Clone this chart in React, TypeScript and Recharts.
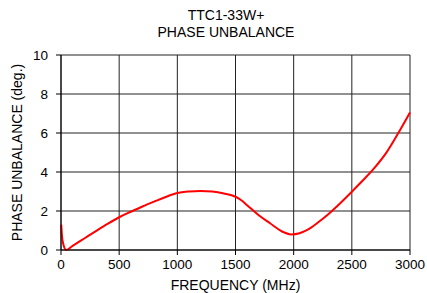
import { CartesianGrid, Line, LineChart, XAxis, YAxis } from "recharts";

const frequency = [
  2, 8, 20, 45, 100, 200, 300, 400, 500, 600, 700, 800, 900, 1000, 1100, 1200, 1300, 1400, 1500, 1550,
  1600, 1700, 1800, 1900, 1980, 2050, 2100, 2150, 2200, 2300, 2400, 2500, 2600, 2700, 2800, 2900, 3000,
];
const phaseUnbalance = [
  1.3, 0.75, 0.3, 0.0, 0.21, 0.59, 0.97, 1.34, 1.68, 1.96, 2.23, 2.48, 2.72, 2.92, 3.0, 3.03, 3.0, 2.9, 2.73, 2.55,
  2.3, 1.78, 1.36, 0.95, 0.8, 0.86, 0.98, 1.15, 1.37, 1.85, 2.4, 2.99, 3.6, 4.25, 5.02, 6.0, 7.05,
];
const xTicks = [0, 500, 1000, 1500, 2000, 2500, 3000];
const yTicks = [0, 2, 4, 6, 8, 10];

const data = frequency.map((f, i) => ({ f, v: phaseUnbalance[i] }));

const font = "'Liberation Sans', Arial, sans-serif";

export default function App() {
  return (
    <div style={{ position: "absolute", left: 0, top: 0, width: 427, height: 293, background: "#fff", fontFamily: font }}>
      <div style={{ position: "absolute", left: 0, width: 452, top: 7, textAlign: "center", fontSize: 14, lineHeight: "17px", color: "#000" }}>
        TTC1-33W+
        <br />
        PHASE UNBALANCE
      </div>
      <LineChart width={427} height={293} data={data} margin={{ top: 55, right: 17, bottom: 0, left: 0 }}>
        <CartesianGrid stroke="#222" strokeWidth={1} />
        <XAxis
          dataKey="f"
          type="number"
          domain={[0, 3000]}
          ticks={xTicks}
          height={43}
          stroke="#000"
          tickSize={5}
          tickMargin={4}
          tick={{ fill: "#000", fontSize: 13.5, fontFamily: font }}
          label={{ value: "FREQUENCY (MHz)", position: "insideBottom", offset: 3, fill: "#000", fontSize: 14, fontFamily: font }}
        />
        <YAxis
          type="number"
          domain={[0, 10]}
          ticks={yTicks}
          width={61}
          stroke="#000"
          tickSize={5}
          tickMargin={8}
          tick={{ fill: "#000", fontSize: 13.5, fontFamily: font }}
          label={{ value: "PHASE UNBALANCE (deg.)", angle: -90, position: "center", dx: -13, fill: "#000", fontSize: 14, fontFamily: font }}
        />
        <Line type="monotone" dataKey="v" stroke="#ff0000" strokeWidth={2} dot={false} isAnimationActive={false} />
      </LineChart>
    </div>
  );
}
